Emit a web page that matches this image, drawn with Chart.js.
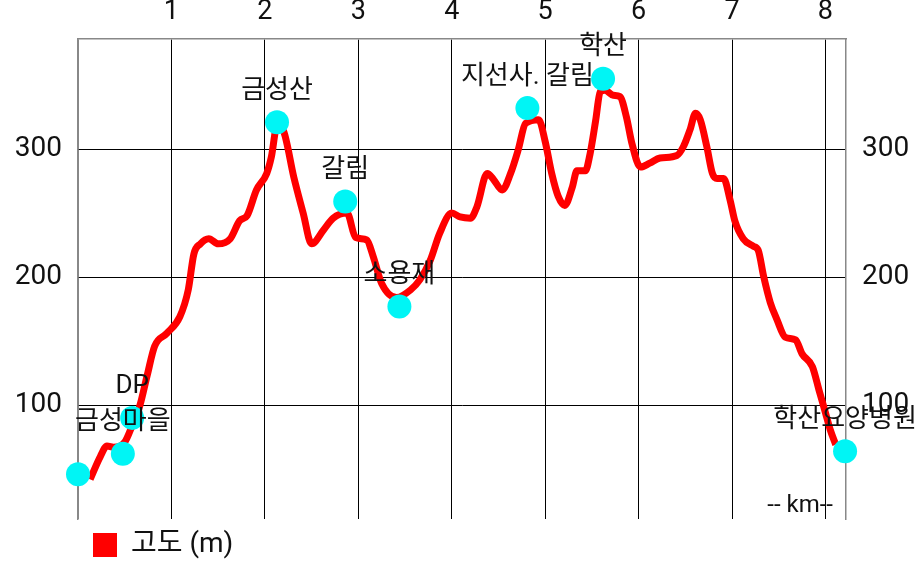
<!DOCTYPE html>
<html>
<head>
<meta charset="utf-8">
<script src="https://cdn.jsdelivr.net/npm/chart.js@4/dist/chart.umd.min.js"></script>
<style>
  body { margin: 0; background: #fff; }
  #wrap { width: 923px; height: 578px; }
</style>
</head>
<body>
<div id="wrap"><canvas id="chart"></canvas></div>
<script>
// elevation profile (km, m)
var dist = [0.13, 0.24, 0.31, 0.38, 0.50, 0.58, 0.66, 0.74, 0.82, 0.95, 1.09, 1.18, 1.24, 1.31, 1.40, 1.50, 1.63, 1.73, 1.81, 1.91,
  2.02, 2.07, 2.13, 2.20, 2.31, 2.41, 2.50, 2.63, 2.73, 2.88, 2.97, 3.09, 3.16, 3.25, 3.41, 3.56, 3.66, 3.77, 3.87, 4.00,
  4.09, 4.20, 4.27, 4.38, 4.45, 4.54, 4.63, 4.71, 4.79, 4.93, 5.00, 5.07, 5.14, 5.21, 5.29, 5.34, 5.43, 5.48, 5.54, 5.59,
  5.64, 5.73, 5.80, 5.87, 5.93, 6.02, 6.12, 6.23, 6.41, 6.48, 6.55, 6.61, 6.66, 6.73, 6.79, 6.84, 6.91, 6.98, 7.03, 7.12,
  7.23, 7.28, 7.34, 7.41, 7.48, 7.57, 7.68, 7.75, 7.86, 7.93, 8.00, 8.05, 8.11]
var elev = [42, 60, 68, 67, 71, 84, 99, 123, 146, 156, 169, 190, 218, 226, 230, 226, 230, 244, 248, 268,
  281, 294, 318, 314, 278, 250, 226, 237, 246, 250, 231, 229, 216, 195, 184, 190, 198, 213, 234, 250,
  247, 246, 255, 281, 276, 268, 281, 299, 320, 323, 306, 281, 263, 256, 270, 283, 283, 296, 322, 345,
  346, 342, 341, 325, 304, 286, 289, 293, 295, 302, 315, 328, 323, 302, 281, 277, 277, 260, 244, 230,
  224, 221, 200, 180, 167, 153, 151, 140, 130, 112, 94, 81, 69]

// waypoints
var markKm = [0, 0.48, 0.58, 2.13, 2.86, 3.44, 4.81, 5.62, 8.21]
var markElev = [46, 62, 90, 321, 259, 177, 332, 355, 64]
var markNames = ['', '금성마을', 'DP', '금성산', '갈림', '소용재', '지선사. 갈림', '학산', '학산요양병원']

var kmTicks = [0, 1, 2, 3, 4, 5, 6, 7, 8]
var elevTicks = [100, 200, 300]

var FONT = "Roboto, 'Noto Sans CJK KR', sans-serif"

var profile = dist.map((d, i) => ({ x: d, y: elev[i] }))
var marks = markKm.map((d, i) => ({ x: d, y: markElev[i] }))

var labelPlugin = {
    id: 'marklabels',
    afterLayout(chart) {
        // nudge legend a bit right, like the original
        chart.legend.left += 3
        chart.legend.right += 3
    },
    afterDatasetsDraw(chart) {
        var c = chart.ctx
        var meta = chart.getDatasetMeta(0)
        c.save()
        c.font = '26px ' + FONT
        c.fillStyle = '#111'
        c.textAlign = 'center'
        c.textBaseline = 'middle'
        meta.data.forEach((pt, i) => {
            if (markNames[i]) c.fillText(markNames[i], pt.x, pt.y - 31)
        })
        c.font = '24px ' + FONT
        c.textAlign = 'right'
        c.fillText('-- km--', chart.chartArea.right - 13, chart.chartArea.bottom - 13)
        c.restore()
    }
}

function yAxis(pos, w) {
    return {
        type: 'linear',
        position: pos,
        min: 11,
        max: 386,
        afterBuildTicks: (s) => { s.ticks = elevTicks.map(v => ({ value: v })) },
        afterFit: (s) => { s.width = w },
        grid: { display: pos === 'left', color: '#000', drawTicks: false },
        border: { display: true, color: '#888', width: 1.5 },
        ticks: { padding: 16, color: '#111', font: { family: FONT, size: 28 } }
    }
}

new Chart(document.getElementById('chart').getContext('2d'), {
    type: 'line',
    data: {
        datasets: [
            {
                label: 'marks',
                data: marks,
                showLine: false,
                clip: false,
                pointRadius: 12,
                pointHoverRadius: 12,
                pointBackgroundColor: '#00f5f5',
                pointBorderWidth: 0,
                yAxisID: 'y',
                order: 0
            },
            {
                label: '고도 (m)',
                data: profile,
                borderColor: '#ff0000',
                backgroundColor: '#ff0000',
                borderWidth: 7,
                pointRadius: 0,
                cubicInterpolationMode: 'monotone',
                yAxisID: 'y',
                order: 1
            }
        ]
    },
    options: {
        responsive: true,
        maintainAspectRatio: false,
        animation: false,
        layout: { autoPadding: false, padding: { bottom: 9 } },
        plugins: {
            tooltip: { enabled: false },
            legend: {
                position: 'bottom',
                align: 'start',
                fullSize: false,
                labels: {
                    filter: (item) => item.datasetIndex === 1,
                    generateLabels: (chart) => {
                        var items = Chart.defaults.plugins.legend.labels.generateLabels(chart)
                        items.forEach(it => { it.lineWidth = 0 })
                        return items
                    },
                    boxWidth: 24,
                    boxHeight: 24,
                    padding: 12,
                    color: '#111',
                    font: { family: FONT, size: 28 }
                }
            }
        },
        scales: {
            x: {
                type: 'linear',
                position: 'top',
                min: 0,
                max: 8.22,
                afterBuildTicks: (s) => { s.ticks = kmTicks.map(v => ({ value: v })) },
                afterFit: (s) => { s.height = 39 },
                grid: {
                    color: (ctx) => ctx.tick && ctx.tick.value === 0 ? '#888' : '#000',
                    drawTicks: false
                },
                border: { display: true, color: '#888', width: 1.5 },
                ticks: {
                    padding: 11,
                    color: '#111',
                    font: { family: FONT, size: 27 },
                    callback: (v) => v === 0 ? '' : v
                }
            },
            y: yAxis('left', 78),
            y2: yAxis('right', 77)
        }
    },
    plugins: [labelPlugin]
})
</script>
</body>
</html>
